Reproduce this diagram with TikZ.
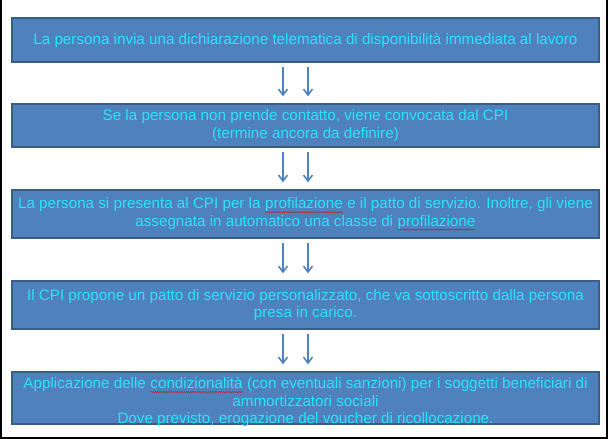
\documentclass[tikz,border=0pt]{standalone}
\usepackage{fontspec}
\setmainfont{Liberation Sans}
\usepackage{tikz}
\usetikzlibrary{arrows.meta,decorations.pathmorphing}
\definecolor{stepfill}{RGB}{79,129,189}
\definecolor{stepedge}{RGB}{56,93,138}
\definecolor{steptext}{RGB}{40,228,250}
\definecolor{wavered}{RGB}{200,30,30}
% red wavy underline (spell-check mark)
\newcommand\squig[1]{\tikz[baseline=(w.base)]{%
  \node[draw=none, fill=none, minimum width=0pt, minimum height=0pt,
    inner sep=0pt, outer sep=0pt, text=steptext] (w) {#1};
  \draw[wavered, line width=0.5pt, decorate, decoration={snake, amplitude=0.5pt, segment length=2.2pt}]
    ([yshift=-3.5pt]w.base west) -- ([yshift=-3.5pt]w.base east);}}

\begin{document}
\begin{tikzpicture}[x=1pt, y=-1pt,
    stepbox/.style={draw=stepedge, line width=1.2pt, fill=stepfill, text=steptext,
      minimum width=587pt, inner xsep=2pt, inner ysep=0pt, align=center,
      font=\fontsize{15.2}{17.5}\selectfont},
    steptxt/.style={text=steptext, inner sep=0pt, align=center,
      font=\fontsize{15.2}{17.5}\selectfont},
    flow/.style={draw=stepfill, line width=1.6pt, -{Straight Barb[length=6pt,width=9pt]},
      shorten <=4pt, shorten >=7pt}]
  \useasboundingbox (0,0) rectangle (608,439);
  % frame (no top edge)
  \draw[line width=2pt] (1,0) -- (1,438) -- (607,438) -- (607,0);
  \node[stepbox, minimum height=44pt] (b1) at (305.5,40)
    {La persona invia una dichiarazione telematica di disponibilità immediata al lavoro};
  \node[stepbox, minimum height=43pt] (b2) at (305.5,125.5)
    {Se la persona non prende contatto, viene convocata dal CPI\\(termine ancora da definire)};
  \node[stepbox, minimum height=48pt] (b3) at (305.5,214)
    {La persona si presenta al CPI per la \squig{profilazione} e il patto di servizio. Inoltre, gli viene\\
     assegnata in automatico una classe di \squig{profilazione}};
  \node[stepbox, minimum height=48pt] (b4) at (305.5,305)
    {Il CPI propone un patto di servizio personalizzato, che va sottoscritto dalla persona\\presa in carico.};
  \node[stepbox, minimum height=52pt] (b5) at (305.5,398) {};
  % last text sits low, running onto the bottom edge
  \node[steptxt] (t5) at (305.5,402)
    {Applicazione delle \squig{condizionalità} (con eventuali sanzioni) per i soggetti beneficiari di\\
     ammortizzatori sociali\\Dove previsto, erogazione del voucher di ricollocazione.};
  % double arrows between steps
  \foreach \a/\b in {b1/b2, b2/b3, b3/b4, b4/b5} {
    \draw[flow] ([xshift=-22.5pt]\a.south) -- ([xshift=-22.5pt]\b.north);
    \draw[flow] ([xshift=2.5pt]\a.south) -- ([xshift=2.5pt]\b.north);
  }
\end{tikzpicture}
\end{document}
